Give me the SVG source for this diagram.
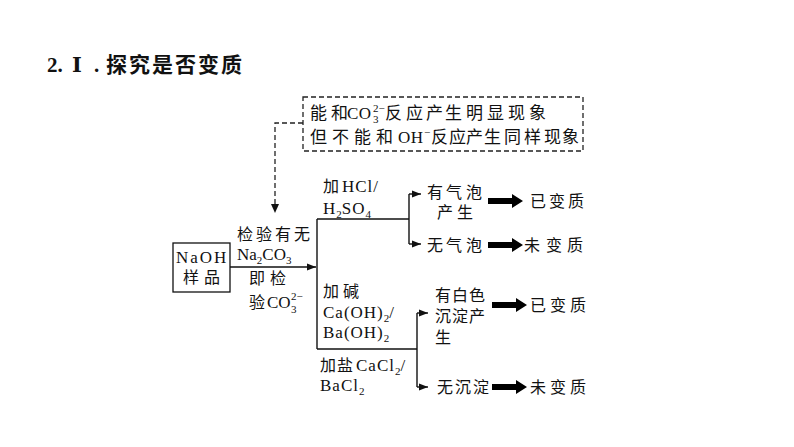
<svg xmlns="http://www.w3.org/2000/svg" width="794" height="447" viewBox="0 0 794 447">
<style>
text{font-family:"Liberation Serif","Noto Sans CJK SC",serif;fill:#111}
.t{font-size:16px;letter-spacing:3px}
.b{font-size:17px;letter-spacing:0}
.l{font-size:17px;letter-spacing:1px}
.s{font-size:11px;letter-spacing:0}
.h{font-size:21px;font-weight:bold}
.ln{fill:none;stroke:#111;stroke-width:1.4}
.dash{fill:none;stroke:#222;stroke-width:1.3;stroke-dasharray:5,3}
.fat{fill:#000}
</style>
<defs>
<marker id="ah" markerUnits="userSpaceOnUse" markerWidth="9" markerHeight="8" refX="9" refY="4" orient="auto">
<path d="M0,0.5 L9,4 L0,7.5 Z" fill="#111"/>
</marker>
<path id="fatArrow" d="M0,-3 L24,-3 L24,-7 L35,0 L24,7 L24,3 L0,3 Z"/>
</defs>
<rect width="794" height="447" fill="#fff"/>

<g id="title">
<text class="h" x="47" y="72">2.</text>
<text class="h" x="72" y="72" style="font-family:'Liberation Serif','DejaVu Serif',serif">Ⅰ</text>
<text class="h" x="94" y="72">.</text>
<text class="h" x="106" y="72" style="font-family:'Noto Sans CJK SC',sans-serif;letter-spacing:2px">探究是否变质</text>
</g>

<g id="note">
<rect class="dash" x="303" y="97" width="280" height="54"/>
<text class="b" x="310 331" y="119">能和</text>
<text class="b" x="347" y="119" style="letter-spacing:0.5px">CO</text>
<text class="s" x="373" y="123">3</text>
<text class="s" x="373" y="112">2−</text>
<text class="b" x="385 406 426 445 466 487 508 529" y="119">反应产生明显现象</text>
<text class="b" x="310 332 354 376" y="143">但不能和</text>
<text class="b" x="398" y="143" style="letter-spacing:0.5px">OH</text>
<text class="s" x="424" y="136">−</text>
<text class="b" x="431 449 466 484 504 524 544 562" y="143">反应产生同样现象</text>
</g>

<g id="sample">
<rect x="173" y="243" width="57" height="49" fill="none" stroke="#111" stroke-width="1.3"/>
<text class="l" x="176" y="263" style="letter-spacing:2px">NaOH</text>
<text class="t" x="183 204" y="283">样品</text>
</g>

<g id="labels">
<text class="t" x="237 256 275 294" y="240">检验有无</text>
<text class="l" x="237" y="260" style="letter-spacing:0">Na<tspan class="s" dy="4">2</tspan><tspan dy="-4">CO</tspan><tspan class="s" dy="4">3</tspan></text>
<text class="t" x="249 270" y="284">即检</text>
<text class="t" x="249" y="308">验</text>
<text class="l" x="267" y="308" style="letter-spacing:0">CO</text>
<text class="s" x="291" y="313">3</text>
<text class="s" x="291" y="300">2−</text>

<text class="t" x="323" y="192">加</text>
<text class="l" x="342" y="192">HCl/</text>
<text class="l" x="323" y="214">H<tspan class="s" dy="4">2</tspan><tspan dy="-4">SO</tspan><tspan class="s" dy="4">4</tspan></text>

<text class="t" x="323 343" y="297">加碱</text>
<text class="l" x="323" y="318">Ca(OH)<tspan class="s" dy="4">2</tspan><tspan dy="-4">/</tspan></text>
<text class="l" x="323" y="338">Ba(OH)<tspan class="s" dy="4">2</tspan></text>

<text class="t" x="320 337" y="371">加盐</text>
<text class="l" x="356" y="371">CaCl<tspan class="s" dy="4">2</tspan><tspan dy="-4">/</tspan></text>
<text class="l" x="320" y="391">BaCl<tspan class="s" dy="4">2</tspan></text>
</g>

<g id="r1">
<text class="t" x="427 446 466" y="198">有气泡</text>
<text class="t" x="437 457" y="218">产生</text>
</g>
<g id="r2"><text class="t" x="427 446 466" y="251">无气泡</text></g>
<g id="r3">
<text class="t" x="435 452 469" y="301">有白色</text>
<text class="t" x="435 452 469" y="322">沉淀产</text>
<text class="t" x="435" y="343">生</text>
</g>
<g id="r4"><text class="t" x="437 455 473" y="393">无沉淀</text></g>

<g id="c1"><text class="t" x="530 549 568" y="207">已变质</text></g>
<g id="c2"><text class="t" x="524 546 567" y="251">未变质</text></g>
<g id="c3"><text class="t" x="530 550 570" y="311">已变质</text></g>
<g id="c4"><text class="t" x="530 550 570" y="393">未变质</text></g>

<g id="connectors">
<path class="dash" d="M303,123 H275 V205"/>
<path d="M271,204 L279,204 L275,213 Z" fill="#111"/>
<path class="ln" d="M230,267 H316" marker-end="url(#ah)"/>
<path class="ln" d="M317,219 V349"/>
<path class="ln" d="M317,219 H409"/>
<path class="ln" d="M317,349 H417"/>
<path class="ln" d="M409,194 V244"/>
<path class="ln" d="M409,194 H421" marker-end="url(#ah)"/>
<path class="ln" d="M409,244 H421" marker-end="url(#ah)"/>
<path class="ln" d="M417,313 V387"/>
<path class="ln" d="M417,313 H428" marker-end="url(#ah)"/>
<path class="ln" d="M417,387 H428" marker-end="url(#ah)"/>
<use href="#fatArrow" class="fat" x="488" y="201"/>
<use href="#fatArrow" class="fat" x="488" y="245"/>
<use href="#fatArrow" class="fat" x="492" y="305"/>
<use href="#fatArrow" class="fat" x="492" y="387"/>
</g>
</svg>
